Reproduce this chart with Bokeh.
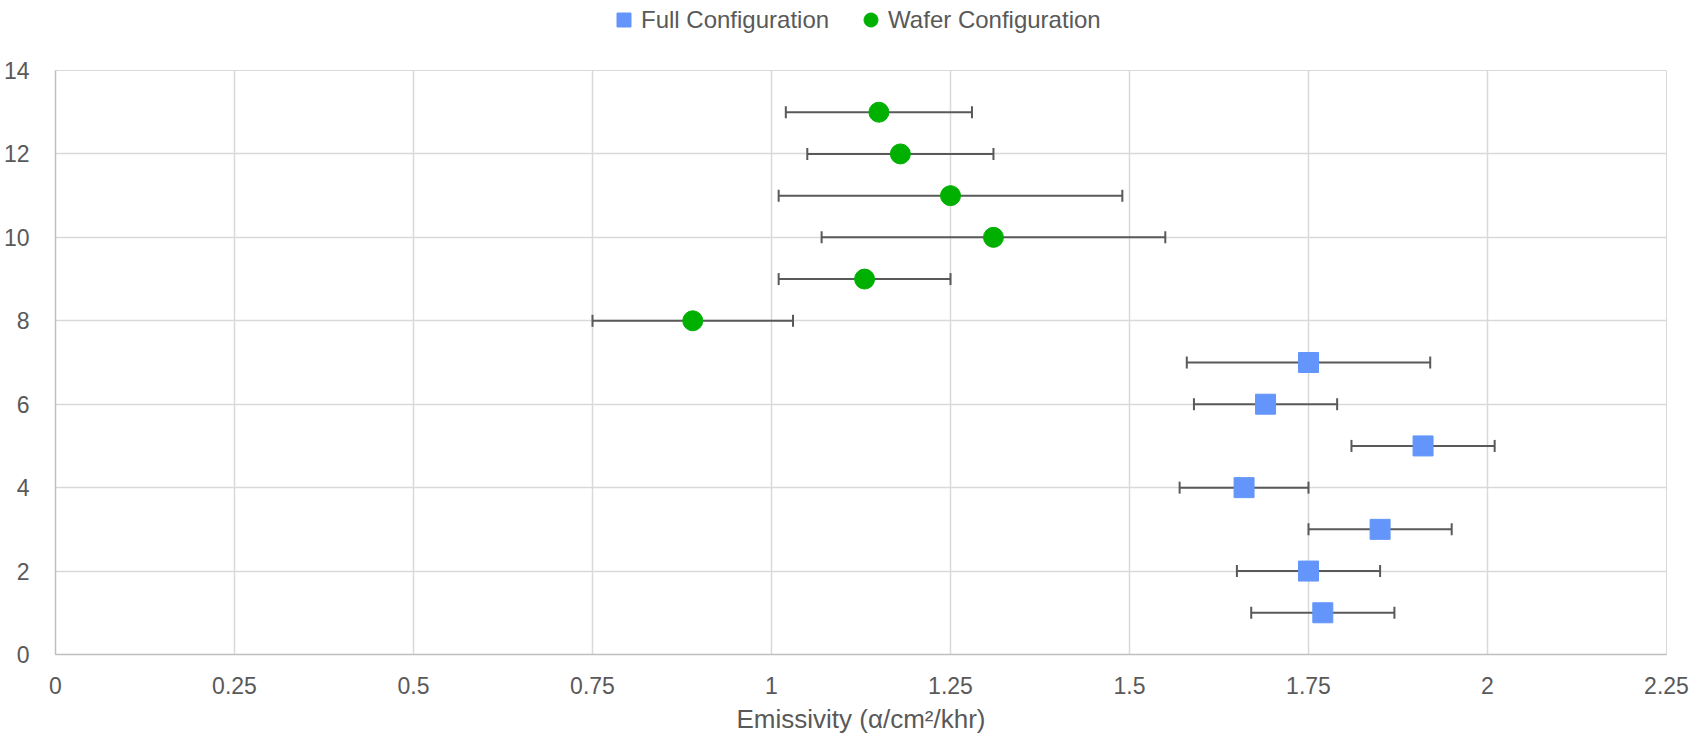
from bokeh.plotting import figure
from bokeh.layouts import column
from bokeh.models import (ColumnDataSource, Whisker, TeeHead, FixedTicker, Legend,
                          LegendItem, Range1d)
from bokeh.embed import file_html
from bokeh.resources import INLINE

# Data
full_y = [1, 2, 3, 4, 5, 6, 7]
full_x = [1.77, 1.75, 1.85, 1.66, 1.91, 1.69, 1.75]
full_err = [0.10, 0.10, 0.10, 0.09, 0.10, 0.10, 0.17]

wafer_y = [8, 9, 10, 11, 12, 13]
wafer_x = [0.89, 1.13, 1.31, 1.25, 1.18, 1.15]
wafer_err = [0.14, 0.12, 0.24, 0.24, 0.13, 0.13]

series_names = ["Full Configuration", "Wafer Configuration"]

x_ticks = [0, 0.25, 0.5, 0.75, 1, 1.25, 1.5, 1.75, 2, 2.25]
x_tick_labels = ["0", "0.25", "0.5", "0.75", "1", "1.25", "1.5", "1.75", "2", "2.25"]
y_ticks = [0, 2, 4, 6, 8, 10, 12, 14]

FONT = "Liberation Sans"
TXT = "#595959"
GRID = "#d9d9d9"
BLUE = "#6495fa"
GREEN = "#00b000"
ERR = "#595959"

# ---- main chart ----
p = figure(frame_width=1611, frame_height=584, x_range=(0, 2.25), y_range=(0, 14),
           output_backend="svg", toolbar_location=None,
           min_border_left=55, min_border_right=37, min_border_top=20, min_border_bottom=83)
p.outline_line_color = GRID
p.background_fill_color = "white"

p.xaxis.ticker = FixedTicker(ticks=x_ticks)
p.xaxis.major_label_overrides = {t: l for t, l in zip(x_ticks, x_tick_labels)}
p.yaxis.ticker = FixedTicker(ticks=y_ticks)

for ax in (p.xaxis, p.yaxis):
    ax.major_tick_line_color = None
    ax.minor_tick_line_color = None
    ax.axis_line_color = "#bfbfbf"
    ax.axis_line_width = 1.5
    ax.major_label_text_font = FONT
    ax.major_label_text_font_size = "23px"
    ax.major_label_text_color = TXT
p.xaxis.major_label_standoff = 16
p.yaxis.major_label_standoff = 20

p.xaxis.axis_label = "Emissivity (\u03b1/cm\u00b2/khr)"
p.xaxis.axis_label_text_font = FONT
p.xaxis.axis_label_text_font_size = "26px"
p.xaxis.axis_label_text_font_style = "normal"
p.xaxis.axis_label_text_color = TXT
p.xaxis.axis_label_standoff = 7

p.grid.grid_line_color = GRID
p.grid.grid_line_width = 1.5

fsrc = ColumnDataSource(dict(x=full_x, y=full_y,
                             lo=[a - e for a, e in zip(full_x, full_err)],
                             hi=[a + e for a, e in zip(full_x, full_err)]))
wsrc = ColumnDataSource(dict(x=wafer_x, y=wafer_y,
                             lo=[a - e for a, e in zip(wafer_x, wafer_err)],
                             hi=[a + e for a, e in zip(wafer_x, wafer_err)]))

for src in (fsrc, wsrc):
    wh = Whisker(base="y", lower="lo", upper="hi", dimension="width", source=src,
                 line_color=ERR, line_width=2, level="underlay",
                 upper_head=TeeHead(size=12, line_color=ERR, line_width=2),
                 lower_head=TeeHead(size=12, line_color=ERR, line_width=2))
    p.add_layout(wh)

p.scatter("x", "y", source=fsrc, marker="square", size=20, fill_color=BLUE, line_color=BLUE)
p.scatter("x", "y", source=wsrc, marker="circle", size=20, fill_color=GREEN, line_color=GREEN)

# ---- legend strip (separate figure so nothing is clipped) ----
# same sources, but the ranges keep the points out of view: only the legend shows
pl = figure(width=1703, height=50, x_range=Range1d(-2, -1), y_range=Range1d(-2, -1),
            output_backend="svg", toolbar_location=None,
            x_axis_location=None, y_axis_location=None,
            min_border_left=0, min_border_right=0, min_border_top=0, min_border_bottom=0)
pl.outline_line_color = None
pl.grid.visible = False
l1 = pl.scatter("x", "y", source=fsrc, marker="square", size=14, fill_color=BLUE, line_color=BLUE)
l2 = pl.scatter("x", "y", source=wsrc, marker="circle", size=14, fill_color=GREEN, line_color=GREEN)

legend = Legend(items=[LegendItem(label=series_names[0], renderers=[l1]),
                       LegendItem(label=series_names[1], renderers=[l2])],
                orientation="horizontal", location=(551, 13),
                glyph_width=35, glyph_height=35, label_standoff=0, spacing=24,
                padding=0, margin=0, border_line_color=None, background_fill_alpha=0,
                label_text_font=FONT, label_text_font_size="24px", label_text_color=TXT,
                label_height=35)
pl.add_layout(legend)

layout = column(pl, p, spacing=0)
open("out.html", "w").write(file_html(layout, INLINE))
